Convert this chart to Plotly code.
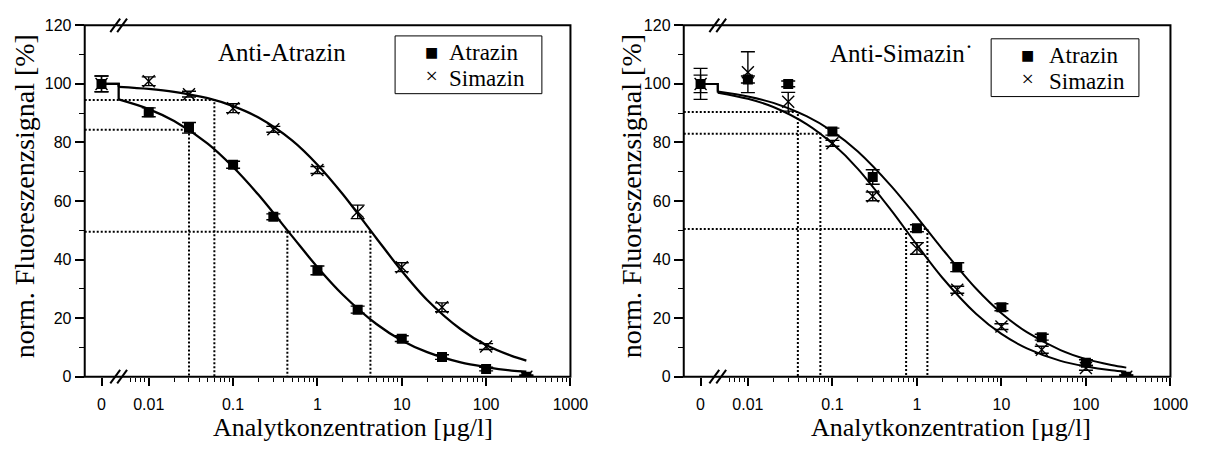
import math
import plotly.graph_objects as go

W, H = 1219, 455

# ---------------------------------------------------------------- data
# analyte concentration in µg/l (0 = blank)
conc = [0, 0.01, 0.03, 0.1, 0.3, 1, 3, 10, 30, 100, 300]

# Anti-Atrazin antibody: normalised fluorescence signal [%] and SD
aa_atrazin = [100.0, 90.3, 85.0, 72.4, 54.6, 36.3, 22.9, 13.0, 6.7, 2.6, 0.0]
aa_atrazin_sd = [2.7, 1.5, 1.8, 1.2, 1.0, 1.5, 1.2, 1.0, 0.8, 0.6, 0.5]
aa_simazin = [100.0, 100.9, 96.5, 91.7, 84.5, 70.6, 56.3, 37.4, 23.7, 10.3, 0.0]
aa_simazin_sd = [2.7, 1.5, 1.0, 1.5, 1.0, 1.2, 2.3, 1.5, 1.5, 1.0, 0.5]

# Anti-Simazin antibody
as_atrazin = [100.0, 101.5, 100.0, 83.7, 68.2, 50.7, 37.4, 23.7, 13.5, 4.8, 0.0]
as_atrazin_sd = [3.0, 1.2, 1.0, 1.2, 2.5, 1.2, 1.5, 1.2, 1.0, 1.0, 0.6]
as_simazin = [100.0, 104.0, 93.9, 79.7, 61.6, 43.8, 29.7, 17.1, 9.2, 3.0, 0.0]
as_simazin_sd = [5.3, 7.0, 3.2, 1.0, 1.5, 2.0, 1.2, 1.0, 1.2, 0.8, 0.5]

# fitted calibration curves (signal at the blank = top plateau)
fit_top = 100.0
fit_conc = [0.0044, 0.01, 0.02, 0.05, 0.1, 0.2, 0.5, 1, 2, 5, 10, 20, 50, 100, 200, 300]
aa_atrazin_fit = [94.7, 91.4, 87.3, 79.6, 71.6, 62.1, 48.0, 37.4, 28.0, 18.0, 12.4, 8.4, 4.9, 3.3, 2.1, 1.7]
aa_simazin_fit = [99.0, 98.3, 97.3, 95.1, 92.4, 88.5, 80.7, 72.4, 62.3, 47.3, 36.1, 26.2, 16.2, 10.8, 7.1, 5.5]
as_atrazin_fit = [97.4, 95.7, 93.5, 88.9, 83.8, 76.9, 65.0, 54.5, 43.6, 30.1, 21.7, 15.2, 9.1, 6.0, 4.0, 3.1]
as_simazin_fit = [97.0, 94.9, 92.1, 86.2, 79.6, 71.0, 56.7, 45.0, 33.8, 21.5, 14.6, 9.7, 5.4, 3.5, 2.2, 1.7]

# detection limits (signal level, concentration) and IC50 values
aa_lod_level = [94.5, 84.3]
aa_lod_conc = [0.06, 0.03]
aa_ic50_level = 49.5
aa_ic50_conc = [0.44, 4.25]
as_lod_level = [90.4, 83.0]
as_lod_conc = [0.039, 0.072]
as_ic50_level = 50.4
as_ic50_conc = [1.33, 0.745]

# axis ticks
x_tick_text = ["0", "0.01", "0.1", "1", "10", "100", "1000"]
x_tick_conc = [0.01, 0.1, 1, 10, 100, 1000]
y_ticks = [0, 20, 40, 60, 80, 100, 120]
y_minor = [10, 30, 50, 70, 90, 110]

# ---------------------------------------------------------------- geometry
LOG_MIN, LOG_MAX = -2.759, 3.0          # log10 x range of each panel
ZERO_POS = 10 ** -2.56                   # where the blank (0) is placed
BREAK_POS = fit_conc[0]                  # axis break between blank and 0.01
X_MIN = 10 ** LOG_MIN

PANELS = [(86, 579), (694, 1188)]        # plot area left/right in px
TOP_PX, BOT_PX = 18, 383                 # plot area top/bottom in px

x_minor = [0.006, 0.007, 0.008, 0.009]
for e in range(-2, 3):
    x_minor += [m * 10 ** e for m in range(2, 10)]


def px(v):
    return v / W


def py(v):
    return 1 - v / H


def conc_to_px(c, panel):
    left, right = PANELS[panel]
    return left + (math.log10(c) - LOG_MIN) / (LOG_MAX - LOG_MIN) * (right - left)


def blank_at_zero(values):
    return [ZERO_POS if c == 0 else c for c in values]


SERIF = "Liberation Serif, Times New Roman, serif"
SANS = "Liberation Sans, Arial, sans-serif"

fig = go.Figure()


def add_panel(xa, ya, atz, atz_sd, sim, sim_sd, atz_fit, sim_fit, lw,
              lod_level, lod_conc, ic_level, ic_conc):
    # dotted guide lines for detection limits and IC50
    gx, gy = [], []
    for lvl, c in zip(lod_level, lod_conc):
        gx += [X_MIN, c, c, None]
        gy += [lvl, lvl, 0, None]
    gx += [X_MIN, max(ic_conc), None]
    gy += [ic_level, ic_level, None]
    for c in ic_conc:
        gx += [c, c, None]
        gy += [ic_level, 0, None]
    fig.add_trace(go.Scatter(x=gx, y=gy, xaxis=xa, yaxis=ya, mode="lines",
                             line=dict(color="black", width=2, dash="2px,2px"),
                             hoverinfo="skip", showlegend=False))
    # fitted curves: blank plateau, step at the break, then the sigmoid
    for fit in (atz_fit, sim_fit):
        fig.add_trace(go.Scatter(x=[ZERO_POS, BREAK_POS, BREAK_POS],
                                 y=[fit_top, fit_top, fit[0]],
                                 xaxis=xa, yaxis=ya, mode="lines",
                                 line=dict(color="black", width=lw),
                                 showlegend=False))
        fig.add_trace(go.Scatter(x=fit_conc, y=fit, xaxis=xa, yaxis=ya,
                                 mode="lines",
                                 line=dict(color="black", width=lw,
                                           shape="spline", smoothing=0.9),
                                 showlegend=False))
    # measured points with error bars
    fig.add_trace(go.Scatter(
        x=blank_at_zero(conc), y=sim, xaxis=xa, yaxis=ya, mode="markers",
        marker=dict(symbol="x-thin", size=12,
                    line=dict(color="black", width=1.4)),
        error_y=dict(type="data", array=sim_sd, visible=True,
                     color="black", thickness=1.4, width=7),
        name="Simazin", showlegend=False))
    fig.add_trace(go.Scatter(
        x=blank_at_zero(conc), y=atz, xaxis=xa, yaxis=ya, mode="markers",
        marker=dict(symbol="square", size=10, color="black"),
        error_y=dict(type="data", array=atz_sd, visible=True,
                     color="black", thickness=1.4, width=7),
        name="Atrazin", showlegend=False))


add_panel("x", "y", aa_atrazin, aa_atrazin_sd, aa_simazin, aa_simazin_sd,
          aa_atrazin_fit, aa_simazin_fit, 2.3,
          aa_lod_level, aa_lod_conc, aa_ic50_level, aa_ic50_conc)
add_panel("x2", "y2", as_atrazin, as_atrazin_sd, as_simazin, as_simazin_sd,
          as_atrazin_fit, as_simazin_fit, 2.0,
          as_lod_level, as_lod_conc, as_ic50_level, as_ic50_conc)

common_x = dict(
    type="log", range=[LOG_MIN, LOG_MAX],
    showline=False,
    ticks="outside", ticklen=8, tickwidth=1.5, tickcolor="black",
    tickmode="array", tickvals=[ZERO_POS] + x_tick_conc, ticktext=x_tick_text,
    tickfont=dict(family=SANS, size=16, color="black"),
    ticklabelstandoff=5,
    minor=dict(tickmode="array", tickvals=x_minor, ticks="outside",
               ticklen=4, tickwidth=1.2, tickcolor="black", showgrid=False),
    showgrid=False, zeroline=False,
)
common_y = dict(
    range=[0, 120],
    showline=False,
    ticks="outside", ticklen=9, tickwidth=1.5, tickcolor="black",
    tickmode="array", tickvals=y_ticks,
    tickfont=dict(family=SANS, size=16, color="black"),
    minor=dict(tickmode="array", tickvals=y_minor, ticks="outside",
               ticklen=5, tickwidth=1.2, tickcolor="black", showgrid=False),
    showgrid=False, zeroline=False,
)

Y_DOM = [py(BOT_PX), py(TOP_PX)]
fig.update_layout(
    width=W, height=H,
    margin=dict(l=0, r=0, t=0, b=0),
    paper_bgcolor="white", plot_bgcolor="white",
    showlegend=False,
    xaxis=dict(domain=[px(PANELS[0][0]), px(PANELS[0][1])], anchor="y", **common_x),
    yaxis=dict(domain=Y_DOM, anchor="x", **common_y),
    xaxis2=dict(domain=[px(PANELS[1][0]), px(PANELS[1][1])], anchor="y2", **common_x),
    yaxis2=dict(domain=Y_DOM, anchor="x2", **common_y),
)

shapes = []
for i, (left, right) in enumerate(PANELS):
    # frame around the plot area
    shapes.append(dict(type="path", xref="paper", yref="paper",
                       path="M{:.5f},{:.5f} L{:.5f},{:.5f} L{:.5f},{:.5f} L{:.5f},{:.5f} Z".format(
                           px(left), py(BOT_PX), px(right), py(BOT_PX),
                           px(right), py(TOP_PX), px(left), py(TOP_PX)),
                       line=dict(color="black", width=2)))
    # axis break marks "//" on bottom and top edges
    bx = conc_to_px(BREAK_POS, i)
    for edge in (BOT_PX, TOP_PX):
        for off in (-3.5, 3.5):
            shapes.append(dict(type="line", xref="paper", yref="paper",
                               x0=px(bx + off - 5), x1=px(bx + off + 5),
                               y0=py(edge + 7), y1=py(edge - 7),
                               line=dict(color="black", width=2)))

# legend boxes
for x0, y0, x1, y1 in ((401, 29, 550, 89), (1006, 32, 1156, 92)):
    shapes.append(dict(type="rect", xref="paper", yref="paper",
                       x0=px(x0), x1=px(x1), y0=py(y1), y1=py(y0),
                       line=dict(color="black", width=1)))
fig.update_layout(shapes=shapes)

ann = []


def text(x, y, s, size, family=SERIF, angle=0, xanchor="center", align="center"):
    ann.append(dict(x=px(x), y=py(y), xref="paper", yref="paper", text=s,
                    showarrow=False, textangle=angle, xanchor=xanchor,
                    yanchor="middle", align=align,
                    font=dict(family=family, size=size, color="black")))


# panel labels
text(286, 46, "Anti-Atrazin", 25)
text(915, 47, "Anti-Simazin˙", 25)

# legends: symbol column and label column
sym = ('<span style="font-family:DejaVu Sans;font-size:14px">■</span><br>'
       '<span style="font-size:22px">×</span>')
lab = ('<span style="font-size:23px">Atrazin</span><br>'
       '<span style="font-size:23px">Simazin</span>')
for sx, tx, yc in ((438, 454, 60), (1043, 1063, 63)):
    text(sx, yc, sym, 20, xanchor="center")
    text(tx, yc, lab, 20, xanchor="left", align="left")

# axis titles
for cx, tx in ((358, 25), (965, 641)):
    text(cx, 436, "Analytkonzentration [µg/l]", 26)
    text(tx, 196, "norm. Fluoreszenzsignal [%]", 28, angle=-90)

fig.update_layout(annotations=ann)

fig.write_html("out.html")
